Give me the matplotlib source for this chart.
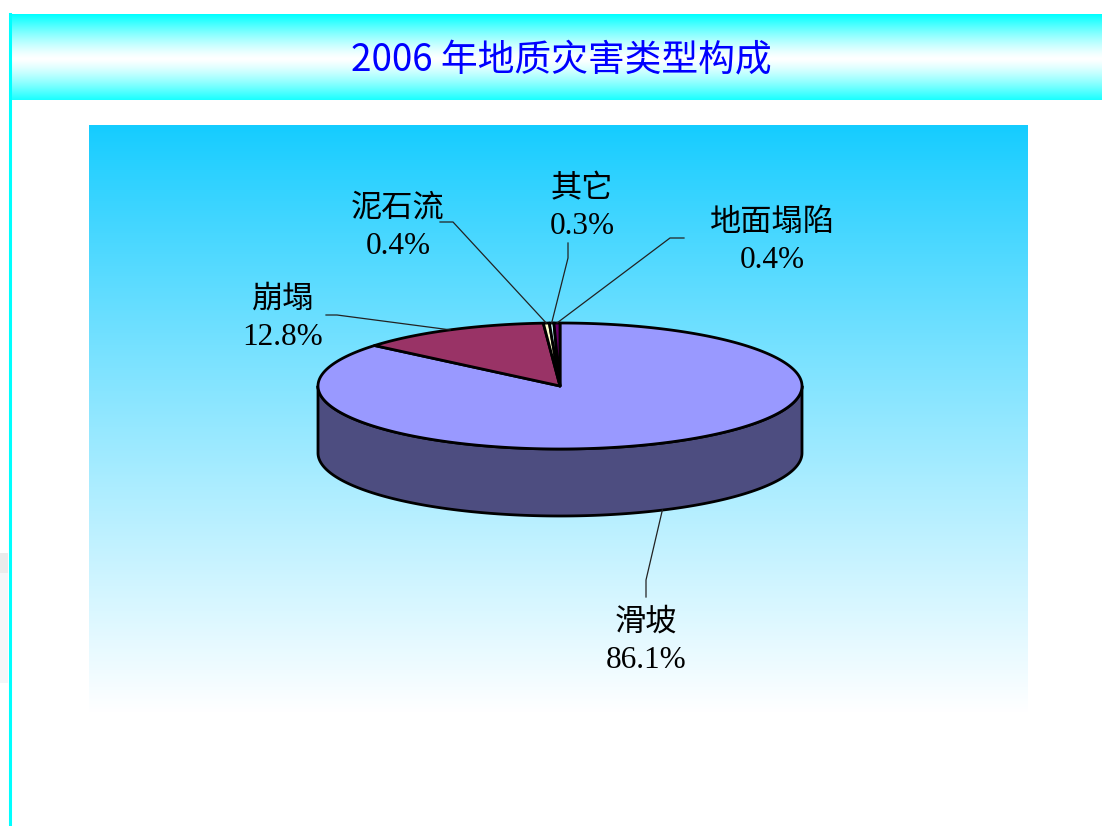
import numpy as np
import matplotlib
matplotlib.use('Agg')
import matplotlib.pyplot as plt
from matplotlib.patches import Polygon, Rectangle
from matplotlib.colors import to_rgb

# data
labels = ['滑坡', '崩塌', '泥石流', '其它', '地面塌陷']
values = [86.1, 12.8, 0.4, 0.3, 0.4]
value_text = ['86.1%', '12.8%', '0.4%', '0.3%', '0.4%']
colors = ['#9999FF', '#993366', '#FFFFCC', '#CCFFFF', '#660066']

title = '2006 年地质灾害类型构成'

# label centres and leader elbows (pixel layout)
label_pos = [(646, 642), (283, 319), (398, 228), (582, 208), (772, 242)]
leader_pts = [[(646, 597), (646, 580)],
              [(326, 315), (337, 315)],
              [(440, 222), (453, 222)],
              [(568, 243), (568, 258)],
              [(684, 238), (670, 238)]]

W, H = 1102, 826
fig = plt.figure(figsize=(W / 100, H / 100), dpi=100)
ax = fig.add_axes([0, 0, 1, 1])
ax.set_xlim(0, W)
ax.set_ylim(H, 0)
ax.axis('off')

# title bar gradient (cyan - white - cyan)
yy = np.linspace(0, 1, 200)
t = np.abs(yy - 0.52) / 0.52
t = np.clip(t, 0, 1) ** 1.3
cyan = np.array([0, 1, 1])
grad = (1 - t)[:, None] * np.ones(3) + t[:, None] * cyan
ax.imshow(grad[:, None, :], extent=(9, W, 100, 14), aspect='auto', zorder=1)
ax.plot([10, 10], [14, H], color='#00FFFF', lw=2.2, zorder=2)
ax.add_patch(Rectangle((0, 553), 8, 20, color='#ebebeb', lw=0, zorder=1))
ax.add_patch(Rectangle((0, 573), 8, 110, color='#f4f6f8', lw=0, zorder=1))
ax.text(561, 60, title, ha='center', va='center', fontsize=26.5,
        color='#0000FF', family=['Noto Sans CJK SC'], weight='medium', zorder=3)

# plot area gradient
top = np.array([20, 204, 255]) / 255
s = np.linspace(0, 1, 300) ** 0.9
pg = (1 - s)[:, None] * top + s[:, None] * np.ones(3)
ax.imshow(pg[:, None, :], extent=(89, 1028, 713, 125), aspect='auto', zorder=1)

# 3D pie
cx, cy, rx, ry, depth = 560, 386, 242, 63, 67


def pt(theta, dy=0.0):
    r = np.radians(theta)
    return np.column_stack([cx + rx * np.cos(r), cy - ry * np.sin(r) + dy])


cum = np.concatenate([[0], np.cumsum(values)]) / np.sum(values)
angles = [(90 - cum[i] * 360, 90 - cum[i + 1] * 360) for i in range(len(values))]

for (a1, a2), c in zip(angles, colors):
    dark = tuple(np.array(to_rgb(c)) * 0.5)
    for k in range(-2, 2):
        lo = max(a2, -180 + 360 * k)
        hi = min(a1, 360 * k)
        if hi > lo:
            th = np.linspace(lo, hi, 200)
            poly = np.vstack([pt(th), pt(th[::-1], depth)])
            ax.add_patch(Polygon(poly, closed=True, fc=dark, ec='black',
                                 lw=2.0, joinstyle='round', zorder=4))

for (a1, a2), c in zip(angles, colors):
    th = np.linspace(a1, a2, max(int(abs(a1 - a2) * 2), 3))
    poly = np.vstack([[cx, cy], pt(th)])
    ax.add_patch(Polygon(poly, closed=True, fc=c, ec='black', lw=2.0,
                         joinstyle='round', zorder=5))

# labels and leader lines
for i, (lab, vt) in enumerate(zip(labels, value_text)):
    mid = (angles[i][0] + angles[i][1]) / 2
    dy = depth if np.sin(np.radians(mid)) < 0 else 0
    anchor = pt(np.array([mid]), dy)[0]
    xs = [p[0] for p in leader_pts[i]] + [anchor[0]]
    ys = [p[1] for p in leader_pts[i]] + [anchor[1]]
    ax.plot(xs, ys, color='#222222', lw=0.9, zorder=6)
    x, y = label_pos[i]
    ax.text(x, y, lab + '\n' + vt, ha='center', va='center', fontsize=22.5,
            linespacing=1.38, family=['Liberation Serif', 'Noto Sans CJK SC'],
            color='black', zorder=7)

fig.savefig('out.png', dpi=100)
